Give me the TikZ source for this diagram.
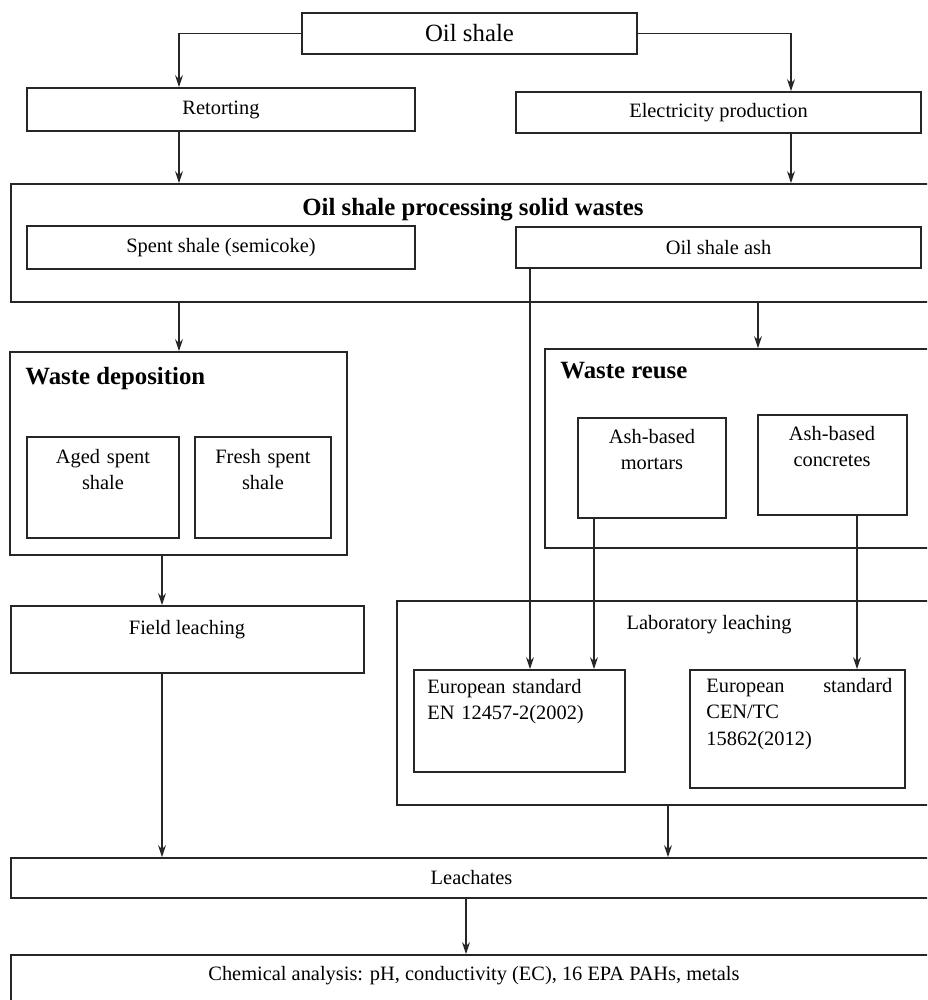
\documentclass[tikz,border=0pt]{standalone}
\usepackage{fontspec}
\setmainfont{Liberation Serif}
\usetikzlibrary{fit,arrows.meta}

\begin{document}
\begin{tikzpicture}[x=0.5pt,y=-0.5pt,
  box/.style={draw=black!85,line width=0.9pt,inner sep=0pt,fit={#1}},
  arr/.style={draw=black!85,line width=0.8pt,-{Stealth[length=6pt,width=4pt]}},
  small/.style={font=\fontsize{10.2}{13.4}\selectfont,inner sep=0pt},
  big/.style={font=\fontsize{12.4}{15}\selectfont,inner sep=0pt},
  bigb/.style={font=\fontsize{12.4}{15}\selectfont\bfseries,inner sep=0pt}]

%fix the frame
\clip (0,0) rectangle (927,1000);

%top row
\node[box={(302,13) (637,54)}] (oil) {};
\node[big] (oil-t) at (oil.center) {Oil shale};
\node[box={(27,88) (415,131)}] (retort) {};
\node[small] (retort-t) at (retort.center) {Retorting};
\node[box={(516,92) (921,133)}] (elec) {};
\node[small] (elec-t) at (elec.center) {Electricity production};

%solid wastes
\node[box={(11,184) (932,302)}] (proc) {};
\node[bigb,anchor=base] (proc-t) at (473,215) {Oil shale processing solid wastes};
\node[box={(27,226) (415,269)}] (spent) {};
\node[small] (spent-t) at (spent.center) {Spent shale (semicoke)};
\node[box={(516,227) (921,268)}] (ash) {};
\node[small] (ash-t) at (ash.center) {Oil shale ash};

%waste deposition
\node[box={(10,352) (347,555)}] (dep) {};
\node[bigb,anchor=base west] (dep-t) at (25,384) {Waste deposition};
\node[box={(27,437) (179,538)}] (aged) {};
\node[small,anchor=base,text width=70pt,align=center] (aged-t) at (103,463) {Aged spent\\shale};
\node[box={(195,437) (331,538)}] (fresh) {};
\node[small,anchor=base,text width=66pt,align=center] (fresh-t) at (263,463) {Fresh spent\\shale};

%waste reuse
\node[box={(545,349) (932,548)}] (reuse) {};
\node[bigb,anchor=base west] (reuse-t) at (560,378) {Waste reuse};
\node[box={(578,418) (726,518)}] (mortar) {};
\node[small,anchor=base,text width=72pt,align=center] (mortar-t) at (652,443) {Ash-based\\mortars};
\node[box={(758,415) (907,515)}] (concrete) {};
\node[small,anchor=base,text width=72pt,align=center] (concrete-t) at (832,440) {Ash-based\\concretes};

%leaching
\node[box={(11,606) (364,673)}] (field) {};
\node[small,anchor=base] (field-t) at (187,634) {Field leaching};
\node[box={(397,601) (932,805)}] (lab) {};
\node[small,anchor=base] (lab-t) at (709,629) {Laboratory leaching};
\node[box={(414,670) (625,772)}] (en) {};
\node[small,anchor=base west,text width=95pt,align=left] (en-t) at (427,693) {European standard\\EN 12457-2(2002)};
\node[box={(690,670) (905,788)}] (cen) {};
\node[small,anchor=base west,text width=93pt,align=left] (cen-t) at (706,692) {European\hfill standard\\CEN/TC\\15862(2012)};

%bottom rows
\node[box={(11,858) (932,898)}] (leach) {};
\node[small] (leach-t) at (leach.center) {Leachates};
\node[box={(11,955) (932,1004)}] (chem) {};
\node[small,anchor=base] (chem-t) at (474,980) {Chemical analysis: pH, conductivity (EC), 16 EPA PAHs, metals};

%columns of the connectors
\coordinate (c1) at (179,0);
\coordinate (c2) at (791,0);
\coordinate (c3) at (162,0);
\coordinate (c4) at (530,0);
\coordinate (c5) at (594,0);
\coordinate (c6) at (857,0);
\coordinate (c7) at (758,0);
\coordinate (c8) at (668,0);
\coordinate (c9) at (466,0);

%draw connectors
\draw[arr] (oil.west) -| (retort.north -| c1);
\draw[arr] (oil.east) -| (elec.north -| c2);
\draw[arr] (retort.south -| c1) -- (proc.north -| c1);
\draw[arr] (elec.south -| c2) -- (proc.north -| c2);
\draw[arr] (proc.south -| c1) -- (dep.north -| c1);
\draw[arr] (proc.south -| c7) -- (reuse.north -| c7);
\draw[arr] (ash.south -| c4) -- (en.north -| c4);
\draw[arr] (mortar.south -| c5) -- (en.north -| c5);
\draw[arr] (concrete.south -| c6) -- (cen.north -| c6);
\draw[arr] (dep.south -| c3) -- (field.north -| c3);
\draw[arr] (field.south -| c3) -- (leach.north -| c3);
\draw[arr] (lab.south -| c8) -- (leach.north -| c8);
\draw[arr] (leach.south -| c9) -- (chem.north -| c9);

\end{tikzpicture}
\end{document}
